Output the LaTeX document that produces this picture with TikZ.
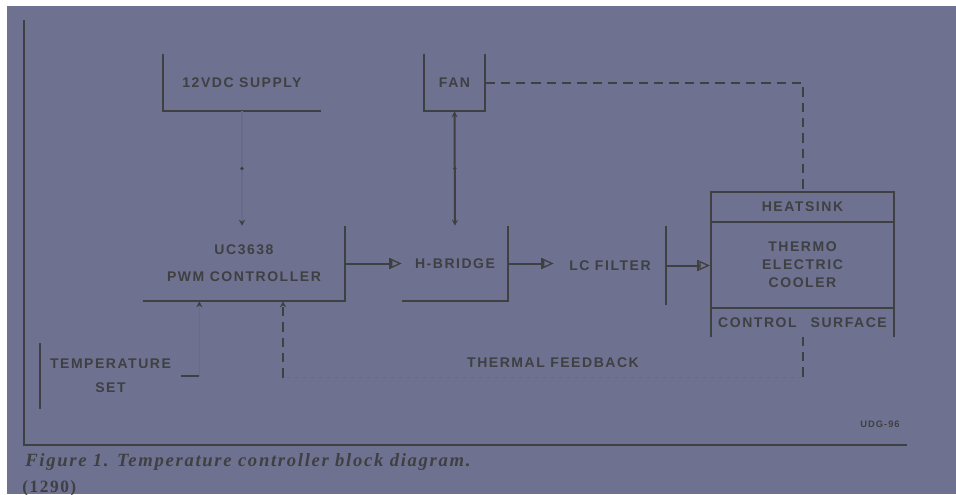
\documentclass[tikz,border=0pt]{standalone}
\usepackage{fontspec}
\setmainfont{Liberation Serif}
\newfontfamily\plotfont[LetterSpace=11]{Liberation Sans}
\newfontfamily\capfont[LetterSpace=9]{Liberation Serif}
\usetikzlibrary{arrows.meta,positioning,calc}
\definecolor{paper}{RGB}{111,113,144}
\definecolor{ink}{RGB}{62,64,66}
\definecolor{faint}{RGB}{104,106,136}

\begin{document}
\begin{tikzpicture}[x=0.75pt, y=-0.75pt,
  blk/.style={inner sep=0pt, text=ink, align=center,
    font=\plotfont\bfseries\fontsize{10.5}{20}\selectfont},
  wire/.style={draw=ink, line width=1.5pt},
  sig/.style={wire, -{Bar[width=8pt]Triangle[open, length=8pt, width=7pt, line width=1pt]}},
  fbk/.style={wire, dash pattern=on 7pt off 4.5pt},
  faintwire/.style={draw=faint, line width=1pt},
  tip/.style={-{Stealth[length=4.5pt, width=4.5pt, color=ink]}},
  dot/.style={circle, fill=ink, inner sep=0pt, minimum size=2.8pt},
]
\useasboundingbox (0,0) rectangle (956,494);
\fill[white] (0,0) rectangle (956,494);
\fill[paper] (7,6) rectangle (956,494);
% frame
\draw[wire] (24,20) |- (907,445);

% blocks
\node[blk, minimum width=118.5pt, minimum height=42.75pt] (sup) at (242,82.5) {12VDC SUPPLY};
\node[blk, minimum width=45.75pt, minimum height=42.75pt] (fan) at (454.5,82.5) {FAN};
\node[blk, minimum width=151.5pt, minimum height=56.25pt] (ctrl) at (244,263.5) {UC3638\\PWM CONTROLLER};
\node[blk, minimum width=79.5pt, minimum height=56.25pt] (hbr) at (455,263.5) {H-BRIDGE};
\node[blk, minimum width=84pt, minimum height=59.25pt] (lcf) at (610,265.5) {LC FILTER};
\node[blk, draw=ink, line width=1.5pt, minimum width=137.25pt, minimum height=22.5pt] (hs) at (802.5,207) {HEATSINK};
\node[blk, draw=ink, line width=1.5pt, minimum width=137.25pt, minimum height=64.5pt,
  font=\plotfont\bfseries\fontsize{10.5}{13.5}\selectfont, below=-1.5pt of hs] (tec) {THERMO\\ELECTRIC\\COOLER};
\node[blk, minimum width=137.25pt, minimum height=21pt, below=-0.75pt of tec] (csf) {CONTROL\quad SURFACE};
\node[blk, minimum width=105.75pt, minimum height=49.5pt,
  font=\plotfont\bfseries\fontsize{10.5}{18}\selectfont] (tset) at (110.5,376) {TEMPERATURE\\SET};

% open borders
\draw[wire] (sup.north west) -- (sup.south west) -- (sup.south east);
\draw[wire] (fan.north west) -- (fan.south west) -- (fan.south east) -- (fan.north east);
\draw[wire] (ctrl.south west) -- (ctrl.south east) -- (ctrl.north east);
\draw[wire] (hbr.south west) -- (hbr.south east) -- (hbr.north east);
\draw[wire] (lcf.north east) -- (lcf.south east);
\draw[wire] (csf.north west) -- (csf.south west);
\draw[wire] (csf.north east) -- (csf.south east);
\draw[wire] (tset.north west) -- (tset.south west);

% power path
\draw[sig] (ctrl.east) -- (hbr.west);
\draw[sig] (hbr.east) -- (hbr.east -| lcf.west);
\draw[sig] (lcf.east) -- (lcf.east -| tec.west);
\draw[wire, {Stealth[length=4.5pt, width=4.5pt]}-{Stealth[length=4.5pt, width=4.5pt]}]
  (fan.south) -- node[dot]{} (hbr.north);
\draw[faintwire, tip] (sup.south) -- node[dot]{} (sup.south |- ctrl.north);

% temperature set
\draw[wire] (tset.east) -- ++(18,0) coordinate (tsout);
\draw[faintwire, tip] (tsout) -- (tsout |- ctrl.south);

% cooling and feedback
\draw[fbk] (fan.east) -| (hs.north);
\draw[fbk] (csf.south) -- ++(0,41) coordinate (fbturn);
\coordinate (fbin) at ($(ctrl.south)+(39,0)$);
\draw[faintwire, dashed] (fbturn) -- (fbturn -| fbin);
\draw[fbk, tip] (fbturn -| fbin) -- (fbin);
\node[blk] (fblab) at (553,363) {THERMAL FEEDBACK};

% caption
\node[blk, font=\plotfont\bfseries\fontsize{7}{8}\selectfont] (udg) at (880,424) {UDG-96};
\node[anchor=base west, text=ink, inner sep=0pt,
  font=\capfont\bfseries\itshape\fontsize{14}{16}\selectfont] (cap) at (25,466) {Figure 1. Temperature controller block diagram.};
\node[anchor=base west, text=ink, inner sep=0pt,
  font=\capfont\bfseries\fontsize{13}{15}\selectfont] (num) at (22,492) {(1290)};
\end{tikzpicture}
\end{document}
